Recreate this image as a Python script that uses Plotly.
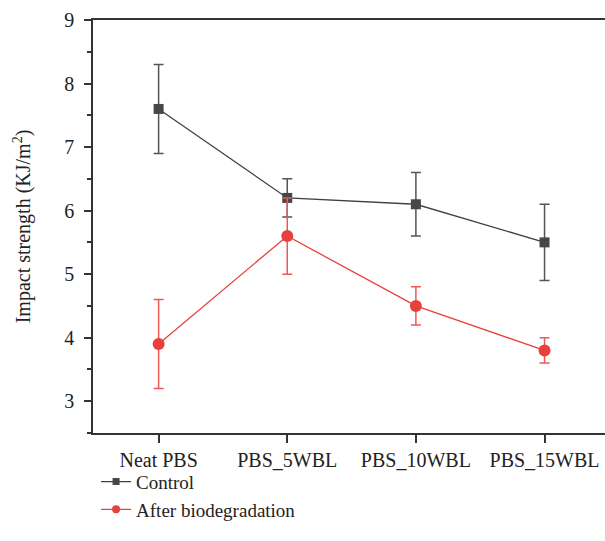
import plotly.graph_objects as go

categories = ["Neat PBS", "PBS_5WBL", "PBS_10WBL", "PBS_15WBL"]
control = [7.6, 6.2, 6.1, 5.5]
control_err = [0.7, 0.3, 0.5, 0.6]
after = [3.9, 5.6, 4.5, 3.8]
after_err = [0.7, 0.6, 0.3, 0.2]
y_ticks = [3, 4, 5, 6, 7, 8, 9]

FONT = "Liberation Serif"
C_CTRL = "#474747"
C_RED = "#e8403c"

fig = go.Figure()
fig.add_trace(go.Scatter(
    x=categories, y=control, name="Control", mode="lines+markers",
    showlegend=False,
    line=dict(color="#404040", width=1.3),
    marker=dict(symbol="square", size=10, color=C_CTRL),
    error_y=dict(type="data", array=control_err, visible=True,
                 color="#555555", thickness=1.5, width=5),
))
fig.add_trace(go.Scatter(
    x=categories, y=after, name="After biodegradation", mode="lines+markers",
    showlegend=False,
    line=dict(color=C_RED, width=1.3),
    marker=dict(symbol="circle", size=12, color=C_RED),
    error_y=dict(type="data", array=after_err, visible=True,
                 color="#ec5a55", thickness=1.5, width=5),
))
# legend entries with small markers, as in the reference
fig.add_trace(go.Scatter(
    x=[None], y=[None], name="Control", mode="lines+markers",
    line=dict(color="#404040", width=1.3),
    marker=dict(symbol="square", size=7, color=C_CTRL),
))
fig.add_trace(go.Scatter(
    x=[None], y=[None], name="After biodegradation", mode="lines+markers",
    line=dict(color=C_RED, width=1.3),
    marker=dict(symbol="circle", size=8, color=C_RED),
))

fig.update_layout(
    width=605, height=541,
    margin=dict(l=93, r=0, t=20, b=108),
    paper_bgcolor="white", plot_bgcolor="white",
    font=dict(family=FONT, size=20, color="#222222"),
    showlegend=True,
    legend=dict(x=0.006, y=-0.072, xanchor="left", yanchor="top",
                font=dict(family=FONT, size=19, color="#222222"),
                bgcolor="rgba(0,0,0,0)", tracegroupgap=0),
    xaxis=dict(
        type="category", range=[-0.51, 3.47],
        showline=True, linecolor="#333333", linewidth=1.5, mirror=True,
        ticks="outside", ticklen=8, tickwidth=1.5, tickcolor="#333333",
        showgrid=False, zeroline=False, ticklabelstandoff=0,
        tickfont=dict(family=FONT, size=20, color="#222222"),
    ),
    yaxis=dict(
        range=[2.5, 9], tickvals=y_ticks,
        showline=True, linecolor="#333333", linewidth=1.5,
        ticks="outside", ticklen=7, tickwidth=1.5, tickcolor="#333333",
        minor=dict(ticks="outside", ticklen=4, tickwidth=1.5,
                   tickcolor="#333333", dtick=0.5, tick0=0),
        showgrid=False, zeroline=False, ticklabelstandoff=6,
        tickfont=dict(family=FONT, size=20, color="#222222"),
        title=dict(text="Impact strength (KJ/m<sup>2</sup>)",
                   font=dict(family=FONT, size=20, color="#222222"),
                   standoff=28),
    ),
)

fig.write_html("out.html")
